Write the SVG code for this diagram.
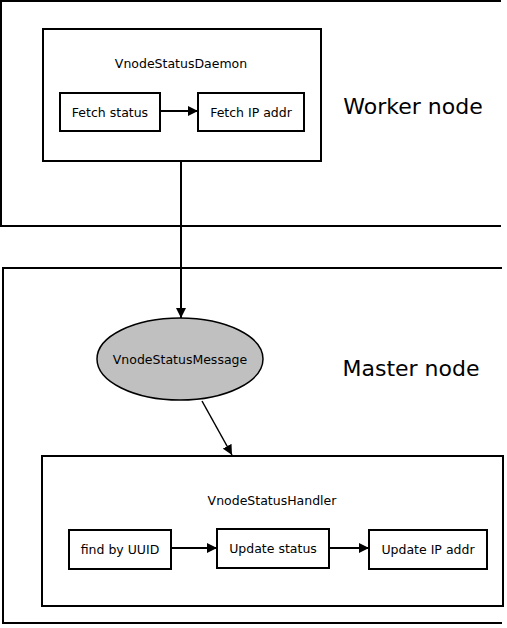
<svg xmlns="http://www.w3.org/2000/svg" width="507" height="628" viewBox="0 0 507 628">
<style>
.frame{fill:none;stroke:#000;stroke-width:2}
.box{fill:#fff;stroke:#000;stroke-width:2}
.t{font-family:"DejaVu Sans",Verdana,sans-serif;font-size:12.5px;fill:#000;text-anchor:middle;dominant-baseline:central}
.big{font-family:"DejaVu Sans",Verdana,sans-serif;font-size:22px;fill:#000;text-anchor:middle;dominant-baseline:central}
.c{fill:none;stroke:#000;stroke-width:2}
.c1{fill:none;stroke:#000;stroke-width:1.5}
</style>
<defs>
<marker id="ah" viewBox="0 0 10 10" refX="10" refY="5" markerWidth="10" markerHeight="10" markerUnits="userSpaceOnUse" orient="auto">
<path d="M0,0 L10,5 L0,10 Z" fill="#000"/>
</marker>
</defs>
<rect width="507" height="628" fill="#fff"/>
<g id="worker">
<path class="frame" d="M501,1 H1 V226 H501"/>
<text class="big" x="413" y="106">Worker node</text>
</g>
<g id="master">
<path class="frame" d="M502,268 H3 V623 H502"/>
<text class="big" x="411" y="368">Master node</text>
</g>
<g id="daemon">
<rect class="box" x="43" y="29" width="278" height="132"/>
<text class="t" x="181" y="63">VnodeStatusDaemon</text>
</g>
<g id="fetch-status">
<rect class="box" x="60" y="93" width="100" height="38"/>
<text class="t" x="110" y="112">Fetch status</text>
</g>
<g id="fetch-ip">
<rect class="box" x="198" y="93" width="106" height="38"/>
<text class="t" x="251" y="112">Fetch IP addr</text>
</g>
<g id="message">
<ellipse cx="180" cy="359" rx="83" ry="41" fill="#c0c0c0" stroke="#000" stroke-width="1.5"/>
<text class="t" x="180" y="359">VnodeStatusMessage</text>
</g>
<g id="handler">
<rect class="box" x="42" y="456" width="461" height="150"/>
<text class="t" x="272" y="500">VnodeStatusHandler</text>
</g>
<g id="find-uuid">
<rect class="box" x="69" y="530" width="102" height="39"/>
<text class="t" x="120" y="549">find by UUID</text>
</g>
<g id="update-status">
<rect class="box" x="217" y="529" width="112" height="39"/>
<text class="t" x="273" y="548">Update status</text>
</g>
<g id="update-ip">
<rect class="box" x="369" y="530" width="118" height="39"/>
<text class="t" x="428" y="549">Update IP addr</text>
</g>
<g id="connectors">
<line class="c" x1="160" y1="111" x2="198" y2="111" marker-end="url(#ah)"/>
<line class="c" x1="181" y1="161" x2="181" y2="318" marker-end="url(#ah)"/>
<line class="c1" x1="202" y1="401" x2="232" y2="455" marker-end="url(#ah)"/>
<line class="c" x1="171" y1="548" x2="217" y2="548" marker-end="url(#ah)"/>
<line class="c" x1="329" y1="548" x2="369" y2="548" marker-end="url(#ah)"/>
</g>
</svg>
